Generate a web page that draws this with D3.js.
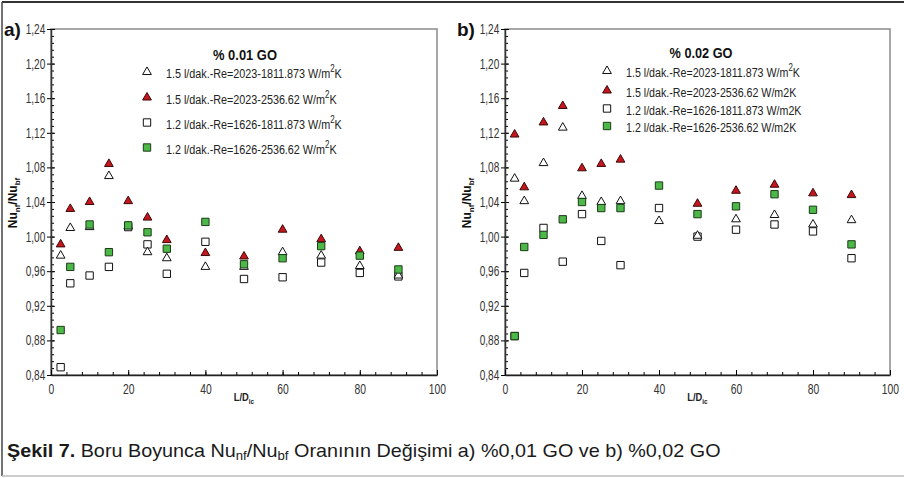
<!DOCTYPE html>
<html>
<head>
<meta charset="utf-8">
<script src="https://cdn.jsdelivr.net/npm/d3@7"></script>
<style>
  body { margin: 0; background: #fff; }
  svg text { font-family: "Liberation Sans", Arial, sans-serif; fill: #222; }
</style>
</head>
<body>
<script>
const W = 904, H = 478;

// L/D_ic positions (same for every series)
const lOverD = [2.5, 5, 10, 15, 20, 25, 30, 40, 50, 60, 70, 80, 90];

// a) % 0.01 GO
const openTriA  = [0.978, 1.010, 1.011, 1.070, 1.012, 0.982, 0.975, 0.965, 0.965, 0.982, 0.978, 0.966, 0.955];
const redTriA   = [0.991, 1.032, 1.040, 1.084, 1.041, 1.022, 0.996, 0.981, 0.977, 1.008, 0.997, 0.983, 0.987];
const openSqA   = [0.849, 0.946, 0.955, 0.965, 1.011, 0.991, 0.957, 0.994, 0.951, 0.953, 0.970, 0.958, 0.954];
const greenSqA  = [0.892, 0.965, 1.014, 0.982, 1.013, 1.005, 0.986, 1.017, 0.968, 0.975, 0.989, 0.978, 0.962];

// b) % 0.02 GO
const openTriB  = [1.067, 1.041, 1.085, 1.126, 1.047, 1.040, 1.041, 1.018, 1.001, 1.020, 1.025, 1.014, 1.019];
const redTriB   = [1.118, 1.057, 1.132, 1.151, 1.079, 1.084, 1.089, null, 1.038, 1.053, 1.060, 1.050, 1.048];
const openSqB   = [0.885, 0.958, 1.010, 0.971, 1.026, 0.995, 0.967, 1.033, 1.000, 1.008, 1.014, 1.006, 0.975];
const greenSqB  = [0.885, 0.988, 1.002, 1.020, 1.040, 1.033, 1.033, 1.059, 1.026, 1.035, 1.049, 1.031, 0.991];

const yTicks = [0.84, 0.88, 0.92, 0.96, 1.00, 1.04, 1.08, 1.12, 1.16, 1.20, 1.24];
const xTicks = [0, 20, 40, 60, 80, 100];

const legendA = ["1.5 l/dak.-Re=2023-1811.873 W/m", "1.5 l/dak.-Re=2023-2536.62 W/m",
                 "1.2 l/dak.-Re=1626-1811.873 W/m", "1.2 l/dak.-Re=1626-2536.62 W/m"];
const legendB = ["1.5 l/dak.-Re=2023-1811.873 W/m", "1.5 l/dak.-Re=2023-2536.62 W/m2K",
                 "1.2 l/dak.-Re=1626-1811.873 W/m2K", "1.2 l/dak.-Re=1626-2536.62 W/m2K"];

const RED = "#c4161c", GREEN = "#4cb847";

const comma = d3.formatLocale({decimal: ",", thousands: ".", grouping: [3], currency: ["", ""]}).format(".2f");

const svg = d3.select("body").append("svg")
    .attr("width", W)
    .attr("height", H);

// figure frame (top + left dark, bottom light)
svg.append("line").attr("x1", 2).attr("y1", 2).attr("x2", W).attr("y2", 2)
    .attr("stroke", "#333").attr("stroke-width", 2);
svg.append("line").attr("x1", 2).attr("y1", 2).attr("x2", 2).attr("y2", 476)
    .attr("stroke", "#444").attr("stroke-width", 1.5);
svg.append("line").attr("x1", 2).attr("y1", 476).attr("x2", W).attr("y2", 476)
    .attr("stroke", "#bbb").attr("stroke-width", 1.5);

// squeeze a text element horizontally around its anchor point
function squeeze(sel, sx) {
  sel.each(function () {
    const t = d3.select(this);
    const x = +t.attr("x") || 0, y = +t.attr("y") || 0;
    t.attr("x", 0).attr("y", 0)
      .attr("transform", `translate(${x},${y}) scale(${sx},1)`);
  });
}
function fitTo(sel, width) {
  const w = sel.node().getComputedTextLength();
  squeeze(sel, width / w);
  return width / w;
}

const triSym = d3.symbol(d3.symbolTriangle, 33);
const sqSym = d3.symbol(d3.symbolSquare, 54);
const styles = [
  {sym: triSym, fill: "#fff", stroke: "#111"},   // open triangle
  {sym: triSym, fill: RED, stroke: "#3a0a0a"},   // red triangle
  {sym: sqSym, fill: "#fff", stroke: "#111"},    // open square
  {sym: sqSym, fill: GREEN, stroke: "#1d3a18"}   // green square
];

function drawPanel(p) {
  const x = d3.scaleLinear().domain([0, 100]).range([p.left, p.right]);
  const y = d3.scaleLinear().domain([0.84, 1.24]).range([375, 29]);
  const g = svg.append("g");

  // plot frame
  g.append("rect")
      .attr("x", p.left).attr("y", 29)
      .attr("width", p.right - p.left).attr("height", 346)
      .attr("fill", "none").attr("stroke", "#8a8a8a").attr("stroke-width", 1.5);

  // minor ticks
  g.append("g").attr("transform", `translate(${p.left},0)`)
      .call(d3.axisLeft(y).tickValues(d3.range(0.84, 1.2401, 0.008)).tickSize(-3).tickFormat(""))
      .call(s => s.select(".domain").remove());
  g.append("g").attr("transform", "translate(0,375)")
      .call(d3.axisBottom(x).tickValues(d3.range(0, 101, 4)).tickSize(-3).tickFormat(""))
      .call(s => s.select(".domain").remove());
  g.append("g").attr("transform", `translate(${p.left},0)`)
      .call(d3.axisLeft(y).tickValues(yTicks).tickSize(-4).tickFormat(""))
      .call(s => s.select(".domain").remove());

  // y axis
  const ya = g.append("g").attr("transform", `translate(${p.left},0)`)
      .call(d3.axisLeft(y).tickValues(yTicks).tickSize(4).tickSizeOuter(0).tickPadding(4).tickFormat(comma));
  ya.select(".domain").attr("stroke", "#333").attr("stroke-width", 1.5);
  ya.selectAll("text").attr("font-size", 14).style("fill", "#333")
      .attr("transform", "scale(0.72,1)");

  // x axis
  const xa = g.append("g").attr("transform", "translate(0,375)")
      .call(d3.axisBottom(x).tickValues(xTicks).tickSize(-5).tickSizeOuter(0).tickPadding(9));
  xa.select(".domain").attr("stroke", "#222").attr("stroke-width", 1.5);
  xa.selectAll("text").attr("font-size", 14).style("fill", "#333")
      .attr("transform", "scale(0.74,1)");

  // panel letter
  g.append("text").attr("x", p.letterX).attr("y", 36)
      .attr("font-size", 19).attr("font-weight", "bold").style("fill", "#111")
      .text(p.letter);

  // y title
  const yt = g.append("text")
      .attr("transform", `translate(${p.left - 34},203) rotate(-90)`)
      .attr("text-anchor", "middle").attr("font-size", 12).attr("font-weight", "bold")
      .style("fill", "#111");
  yt.append("tspan").text("Nu");
  yt.append("tspan").attr("font-size", 8).attr("dy", 3).text("nf");
  yt.append("tspan").attr("dy", -3).text("/Nu");
  yt.append("tspan").attr("font-size", 8).attr("dy", 3).text("bf");

  // x title
  const xt = g.append("text")
      .attr("x", (p.left + p.right) / 2).attr("y", 401)
      .attr("text-anchor", "middle").attr("font-size", 11).attr("font-weight", "bold")
      .style("fill", "#222");
  xt.append("tspan").text("L/D");
  xt.append("tspan").attr("font-size", 7.5).attr("dy", 3).text("ic");
  squeeze(xt, 0.85);

  // points: draw open squares, open triangles, red triangles, green squares
  [2, 0, 1, 3].forEach(k => {
    const vals = p.series[k];
    const pts = lOverD.map((d, i) => ({x: d, v: vals[i]})).filter(d => d.v != null);
    g.append("g").selectAll("path")
        .data(pts)
        .enter()
      .append("path")
        .attr("d", styles[k].sym)
        .attr("transform", d => `translate(${x(d.x)},${y(d.v)})`)
        .attr("fill", styles[k].fill)
        .attr("stroke", styles[k].stroke)
        .attr("stroke-width", 1);
  });

  // legend
  const lt = g.append("text")
      .attr("x", p.leg.titleX).attr("y", p.leg.titleY)
      .attr("text-anchor", "middle").attr("font-size", 15).attr("font-weight", "bold")
      .style("fill", "#111")
      .text(p.title);
  fitTo(lt, p.leg.titleW);

  let sx = null;
  p.leg.labels.forEach((lab, i) => {
    const ry = p.leg.rowY[i];
    g.append("path")
        .attr("d", styles[i].sym)
        .attr("transform", `translate(${p.leg.markX},${ry})`)
        .attr("fill", styles[i].fill)
        .attr("stroke", styles[i].stroke);
    const t = g.append("text")
        .attr("x", p.leg.textX).attr("y", ry + 6)
        .attr("font-size", 13.5).style("fill", "#222");
    t.append("tspan").text(lab);
    if (p.leg.sup[i]) {
      t.append("tspan").attr("font-size", 10).attr("dy", -6).text("2");
      t.append("tspan").attr("dy", 6).text("K");
    }
    if (sx === null) sx = fitTo(t, p.leg.rowW);
    else squeeze(t, sx);
  });
}

drawPanel({
  left: 51, right: 437, letter: "a)", letterX: 4, title: "% 0.01 GO",
  series: [openTriA, redTriA, openSqA, greenSqA],
  leg: {titleX: 245, titleY: 60, titleW: 64, markX: 147, textX: 166,
        rowY: [72, 97.5, 122.5, 147.5], rowW: 176,
        labels: legendA, sup: [true, true, true, true]}
});
drawPanel({
  left: 505, right: 890, letter: "b)", letterX: 457, title: "% 0.02 GO",
  series: [openTriB, redTriB, openSqB, greenSqB],
  leg: {titleX: 701, titleY: 58, titleW: 63, markX: 607, textX: 626,
        rowY: [71, 90.5, 108.5, 126], rowW: 174,
        labels: legendB, sup: [true, false, false, false]}
});

// caption
const cap = svg.append("text")
    .attr("x", 7).attr("y", 457)
    .attr("font-size", 18).style("fill", "#1a1a1a");
cap.append("tspan").attr("font-weight", "bold").text("Şekil 7.");
cap.append("tspan").text(" Boru Boyunca Nu");
cap.append("tspan").attr("font-size", 12).attr("dy", 3).text("nf");
cap.append("tspan").attr("dy", -3).text("/Nu");
cap.append("tspan").attr("font-size", 12).attr("dy", 3).text("bf");
cap.append("tspan").attr("dy", -3).text(" Oranının Değişimi a) %0,01 GO ve b) %0,02 GO");
fitTo(cap, 714);
</script>
</body>
</html>
